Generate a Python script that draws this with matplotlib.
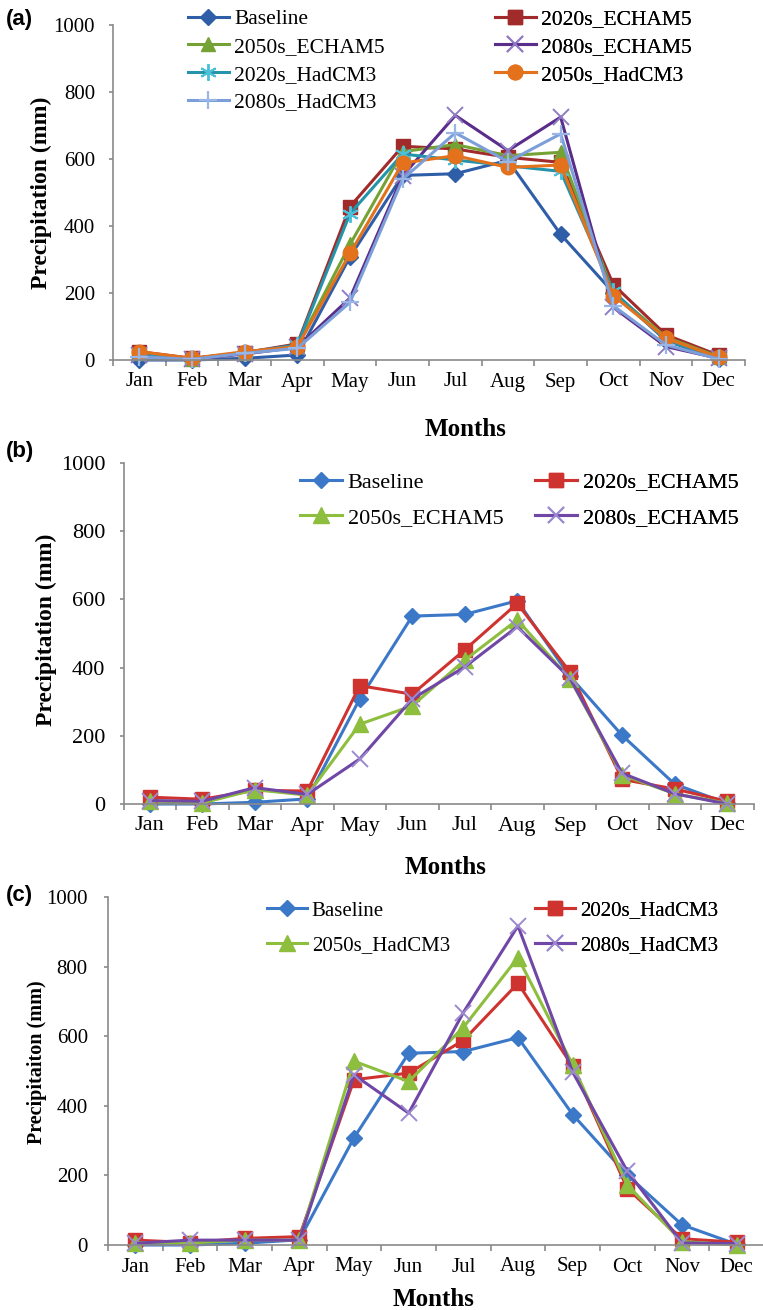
import numpy as np
import matplotlib
matplotlib.use("Agg")
import matplotlib.pyplot as plt

# ---------------- data ----------------
months = ['Jan', 'Feb', 'Mar', 'Apr', 'May', 'Jun', 'Jul', 'Aug', 'Sep', 'Oct', 'Nov', 'Dec']
baseline = [0, 0, 5, 15, 308, 551, 556, 596, 375, 201, 58, 2]

# panel (a)
a_2020s_echam5 = [25, 5, 22, 48, 458, 638, 630, 605, 590, 225, 75, 14]
a_2050s_echam5 = [20, 4, 20, 42, 345, 622, 643, 610, 620, 200, 68, 10]
a_2080s_echam5 = [15, 2, 18, 38, 185, 550, 730, 625, 725, 157, 40, 5]
a_2020s_hadcm3 = [20, 4, 22, 45, 437, 615, 597, 580, 563, 205, 58, 8]
a_2050s_hadcm3 = [25, 5, 25, 40, 318, 588, 610, 575, 582, 192, 65, 8]
a_2080s_hadcm3 = [10, 2, 20, 35, 172, 540, 678, 592, 675, 162, 45, 3]

# panel (b)
b_2020s_echam5 = [20, 14, 40, 38, 347, 322, 452, 588, 388, 72, 44, 8]
b_2050s_echam5 = [10, 3, 42, 26, 234, 288, 422, 540, 368, 85, 30, 2]
b_2080s_echam5 = [10, 8, 48, 28, 132, 308, 402, 520, 370, 90, 30, 0]

# panel (c)
c_2020s_hadcm3 = [14, 7, 19, 24, 475, 494, 588, 752, 513, 162, 18, 8]
c_2050s_hadcm3 = [7, 6, 14, 14, 528, 470, 625, 826, 518, 172, 10, 0]
c_2080s_hadcm3 = [5, 14, 14, 14, 489, 379, 668, 917, 497, 212, 6, 4]

yticks = [0, 200, 400, 600, 800, 1000]

# ---------------- style ----------------
SERIF = ['Liberation Serif', 'DejaVu Serif']
SANS = ['Liberation Sans', 'DejaVu Sans']
plt.rcParams['font.family'] = SERIF

W, H = 763, 1310
fig = plt.figure(figsize=(W / 100, H / 100), dpi=100)


def fx(px):
    return px / W


def fy(py):
    return 1 - py / H


GRAY = '#8a8a8a'


def setup_axes(ax, ticksize, ypad):
    x = np.arange(len(months))
    ax.set_xlim(-0.5, len(months) - 0.5)
    ax.set_ylim(0, 1000)
    ax.set_yticks(yticks)
    ax.set_xticks(x)
    ax.set_xticklabels(months)
    ax.set_xticks(np.arange(-0.5, len(months), 1), minor=True)
    for s in ['top', 'right']:
        ax.spines[s].set_visible(False)
    for s in ['left', 'bottom']:
        ax.spines[s].set_color(GRAY)
        ax.spines[s].set_linewidth(1.2)
    ax.tick_params(axis='x', which='major', length=0, pad=9, labelsize=ticksize)
    ax.tick_params(axis='x', which='minor', length=4, width=1.2, color=GRAY, direction='out')
    ax.tick_params(axis='y', which='major', length=3, width=1.2, color=GRAY,
                   direction='out', pad=ypad, labelsize=ticksize)
    ax.set_facecolor('none')


def add_legend(ax, handles, labels, x_px, ytop_px, fs, lspace):
    leg = ax.legend(handles, labels, loc='upper left',
                    bbox_to_anchor=(fx(x_px), fy(ytop_px)),
                    bbox_transform=fig.transFigure, frameon=False,
                    borderpad=0, borderaxespad=0, handlelength=1.9,
                    handletextpad=0.25, labelspacing=lspace,
                    numpoints=1, prop={'family': SERIF, 'size': fs})
    ax.add_artist(leg)
    return leg


def plot_series(ax, y, color, marker, ms, mec=None, mew=1.0, lw=2.2, label=None):
    x = np.arange(len(months))
    ln, = ax.plot(x, y, color=color, lw=lw, marker=marker, markersize=ms,
                  markerfacecolor=color, markeredgecolor=mec if mec else color,
                  markeredgewidth=mew, label=label, clip_on=False)
    return ln


# ---------------- panel (a) ----------------
axA = fig.add_axes([fx(113), fy(360), fx(745 - 113), (360 - 25) / H])
setup_axes(axA, 15, 10)

a_series = [
    ('Baseline', baseline, '#2F5EA8', 'D', 8, None, 1.0),
    ('2020s_ECHAM5', a_2020s_echam5, '#A12B2B', 's', 9.5, None, 1.0),
    ('2050s_ECHAM5', a_2050s_echam5, '#75A234', '^', 10, None, 1.0),
    ('2080s_ECHAM5', a_2080s_echam5, '#5A2D8A', 'x', 11, '#8F7CC4', 1.4),
    ('2020s_HadCM3', a_2020s_hadcm3, '#2494AA', (6, 2, 0), 12, '#4BC0D9', 1.4),
    ('2050s_HadCM3', a_2050s_hadcm3, '#E4711C', 'o', 10.5, None, 1.0),
    ('2080s_HadCM3', a_2080s_hadcm3, '#7C9FD9', '+', 13, '#9AB6E6', 1.6),
]
hA = {}
for name, y, c, m, ms, mec, mew in a_series:
    hA[name] = plot_series(axA, y, c, m, ms, mec, mew, label=name)

col1 = ['Baseline', '2050s_ECHAM5', '2020s_HadCM3', '2080s_HadCM3']
col2 = ['2020s_ECHAM5', '2080s_ECHAM5', '2050s_HadCM3']
add_legend(axA, [hA[n] for n in col1], col1, 188, 9, 15.5, 0.36)
add_legend(axA, [hA[n] for n in col2], col2, 495, 9, 15.5, 0.36)

axA.set_ylabel('Precipitation (mm)', fontsize=17, fontweight='bold')
axA.yaxis.set_label_coords((41 - 113) / (745 - 113), (360 - 193) / 335)
axA.yaxis.label.set_va('center')
axA.set_xlabel('Months', fontsize=18, fontweight='bold')
axA.xaxis.set_label_coords((466 - 113) / (745 - 113), (360 - 429) / 335)
axA.xaxis.label.set_va('center')

# ---------------- panel (b) ----------------
axB = fig.add_axes([fx(123.5), fy(804), fx(630), (804 - 463) / H])
setup_axes(axB, 16, 10)

BLUE, RED, GREEN, PURPLE = '#3B78C8', '#CF3330', '#8DBE3D', '#7046A6'
PURPLE_M = '#9C8AD0'

b_series = [
    ('Baseline', baseline, BLUE, 'D', 8.5, None, 1.0),
    ('2020s_ECHAM5', b_2020s_echam5, RED, 's', 10.5, None, 1.0),
    ('2050s_ECHAM5', b_2050s_echam5, GREEN, '^', 11, None, 1.0),
    ('2080s_ECHAM5', b_2080s_echam5, PURPLE, 'x', 11, PURPLE_M, 1.4),
]
hB = {}
for name, y, c, m, ms, mec, mew in b_series:
    hB[name] = plot_series(axB, y, c, m, ms, mec, mew, label=name)
add_legend(axB, [hB['Baseline'], hB['2050s_ECHAM5']], ['Baseline', '2050s_ECHAM5'], 300, 472, 16, 0.68)
add_legend(axB, [hB['2020s_ECHAM5'], hB['2080s_ECHAM5']], ['2020s_ECHAM5', '2080s_ECHAM5'], 535, 472, 16, 0.68)

axB.set_ylabel('Precipitation (mm)', fontsize=17, fontweight='bold')
axB.yaxis.set_label_coords((46 - 123.5) / 630, (804 - 630) / 341)
axB.yaxis.label.set_va('center')
axB.set_xlabel('Months', fontsize=18, fontweight='bold')
axB.xaxis.set_label_coords((446 - 123.5) / 630, (804 - 867) / 341)
axB.xaxis.label.set_va('center')

# ---------------- panel (c) ----------------
axC = fig.add_axes([fx(108), fy(1245), fx(656), (1245 - 897) / H])
setup_axes(axC, 15, 11.5)

c_series = [
    ('Baseline', baseline, BLUE, 'D', 8.5, None, 1.0),
    ('2020s_HadCM3', c_2020s_hadcm3, RED, 's', 10.5, None, 1.0),
    ('2050s_HadCM3', c_2050s_hadcm3, GREEN, '^', 11, None, 1.0),
    ('2080s_HadCM3', c_2080s_hadcm3, PURPLE, 'x', 11, PURPLE_M, 1.4),
]
hC = {}
for name, y, c, m, ms, mec, mew in c_series:
    hC[name] = plot_series(axC, y, c, m, ms, mec, mew, label=name)
add_legend(axC, [hC['Baseline'], hC['2050s_HadCM3']], ['Baseline', '2050s_HadCM3'], 267, 901, 15, 0.72)
add_legend(axC, [hC['2020s_HadCM3'], hC['2080s_HadCM3']], ['2020s_HadCM3', '2080s_HadCM3'], 535, 901, 15, 0.72)

axC.set_ylabel('Precipitaiton (mm)', fontsize=14.5, fontweight='bold')
axC.yaxis.set_label_coords((37 - 108) / 656, (1245 - 1062) / 348)
axC.yaxis.label.set_va('center')
axC.set_xlabel('Months', fontsize=18, fontweight='bold')
axC.xaxis.set_label_coords((434 - 108) / 656, (1245 - 1300) / 348)
axC.xaxis.label.set_va('center')

# ---------------- panel labels ----------------
for lab, ypx in [('(a)', 19), ('(b)', 452), ('(c)', 896)]:
    fig.text(fx(6), fy(ypx), lab, family=SANS, fontsize=16, fontweight='bold',
             ha='left', va='center')

fig.savefig('out.png', dpi=100, facecolor='white')
